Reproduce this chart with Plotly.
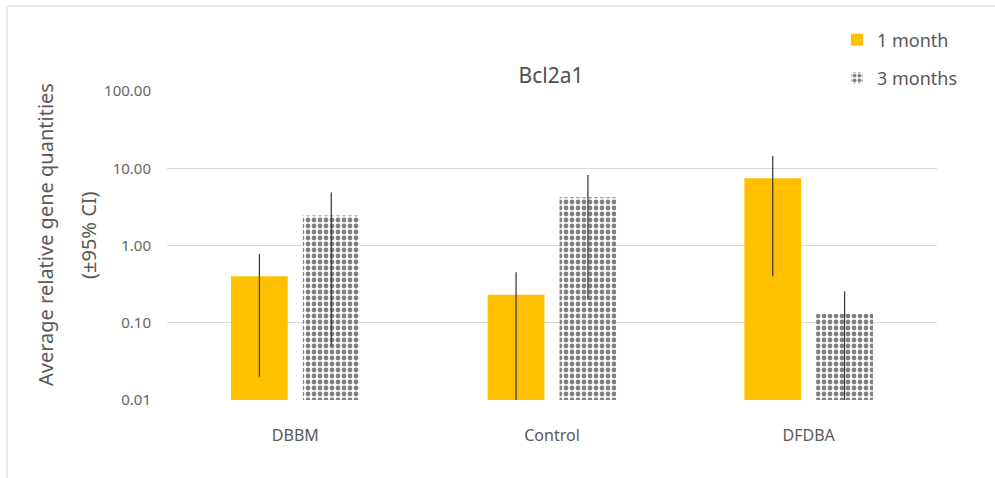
import plotly.graph_objects as go

# Bcl2a1 relative expression, log scale, with 95% CI
categories = ["DBBM", "Control", "DFDBA"]
series_names = ["1 month", "3 months"]
month1_values = [0.40, 0.23, 7.4]
month1_ci = [0.38, 0.22, 7.0]
month3_values = [2.45, 4.2, 0.13]
month3_ci = [2.4, 4.0, 0.125]
tick_values = [0.01, 0.1, 1, 10, 100]
tick_labels = ["0.01", "0.10", "1.00", "10.00", "100.00"]
y_title_lines = ["Average relative gene quantities", "(±95% CI)"]

FONT = "Noto Sans"
GREY_TEXT = "#595959"
GRID = "#d9d9d9"

# plot area in pixels
L, R, T, B = 167, 58, 91, 78
W, H = 995, 478
PW, PH = W - L - R, H - T - B

fig = go.Figure()

fig.add_trace(go.Bar(
    x=categories, y=month1_values, name=series_names[0],
    legendgroup="a",
    marker=dict(color="#FFC000", line=dict(width=0)),
    error_y=dict(type="data", array=month1_ci, symmetric=True,
                 color="#404040", thickness=1.3, width=0),
))
fig.add_trace(go.Bar(
    x=categories, y=month3_values, name=series_names[1],
    legendgroup="b",
    marker=dict(color="white", line=dict(width=0),
                pattern=dict(shape=".", fgcolor="black", bgcolor="white",
                             size=6, solidity=0.5)),
    error_y=dict(type="data", array=month3_ci, symmetric=True,
                 color="#404040", thickness=1.3, width=0),
))

fig.update_layout(
    width=W, height=H,
    margin=dict(l=L, r=R, t=T, b=B),
    paper_bgcolor="white", plot_bgcolor="white",
    barmode="group", bargap=0.44, bargroupgap=0.21,
    font=dict(family=FONT, color=GREY_TEXT),
    title=dict(text="Bcl2a1", x=551 / W, xanchor="center",
               y=1 - 76 / H, yanchor="middle",
               font=dict(size=21, color="#505050", family=FONT)),
    legend=dict(x=(837 - L) / PW, y=1.225, xanchor="left", yanchor="top",
                font=dict(size=18, color=GREY_TEXT, family=FONT),
                tracegroupgap=12, bgcolor="rgba(0,0,0,0)"),
    showlegend=True,
)

fig.update_yaxes(
    type="log", range=[-2, 2],
    tickvals=tick_values, ticktext=tick_labels,
    showgrid=True, gridcolor=GRID, gridwidth=1,
    zeroline=False, showline=False, ticks="",
    tickfont=dict(size=15, color="#666666", family=FONT),
    ticklabelstandoff=15,
)
fig.update_xaxes(
    showline=False, ticks="", showgrid=False,
    tickfont=dict(size=16, color=GREY_TEXT, family=FONT),
    ticklabelstandoff=24,
)

# two-line y-axis title, widely spaced
for text, px in zip(y_title_lines, [45, 88]):
    fig.add_annotation(text=text, textangle=-90, showarrow=False,
                       xref="paper", yref="paper",
                       x=(px - L) / PW, y=1 - (235 - T) / PH,
                       xanchor="center", yanchor="middle",
                       font=dict(size=20, color=GREY_TEXT, family=FONT))

# light frame around the chart area
fig.add_shape(type="rect", xref="paper", yref="paper",
              x0=(7 - L) / PW, x1=1.2, y0=-0.4, y1=1 + (T - 6) / PH,
              line=dict(color=GRID, width=1), layer="below")

fig.write_html("out.html")
